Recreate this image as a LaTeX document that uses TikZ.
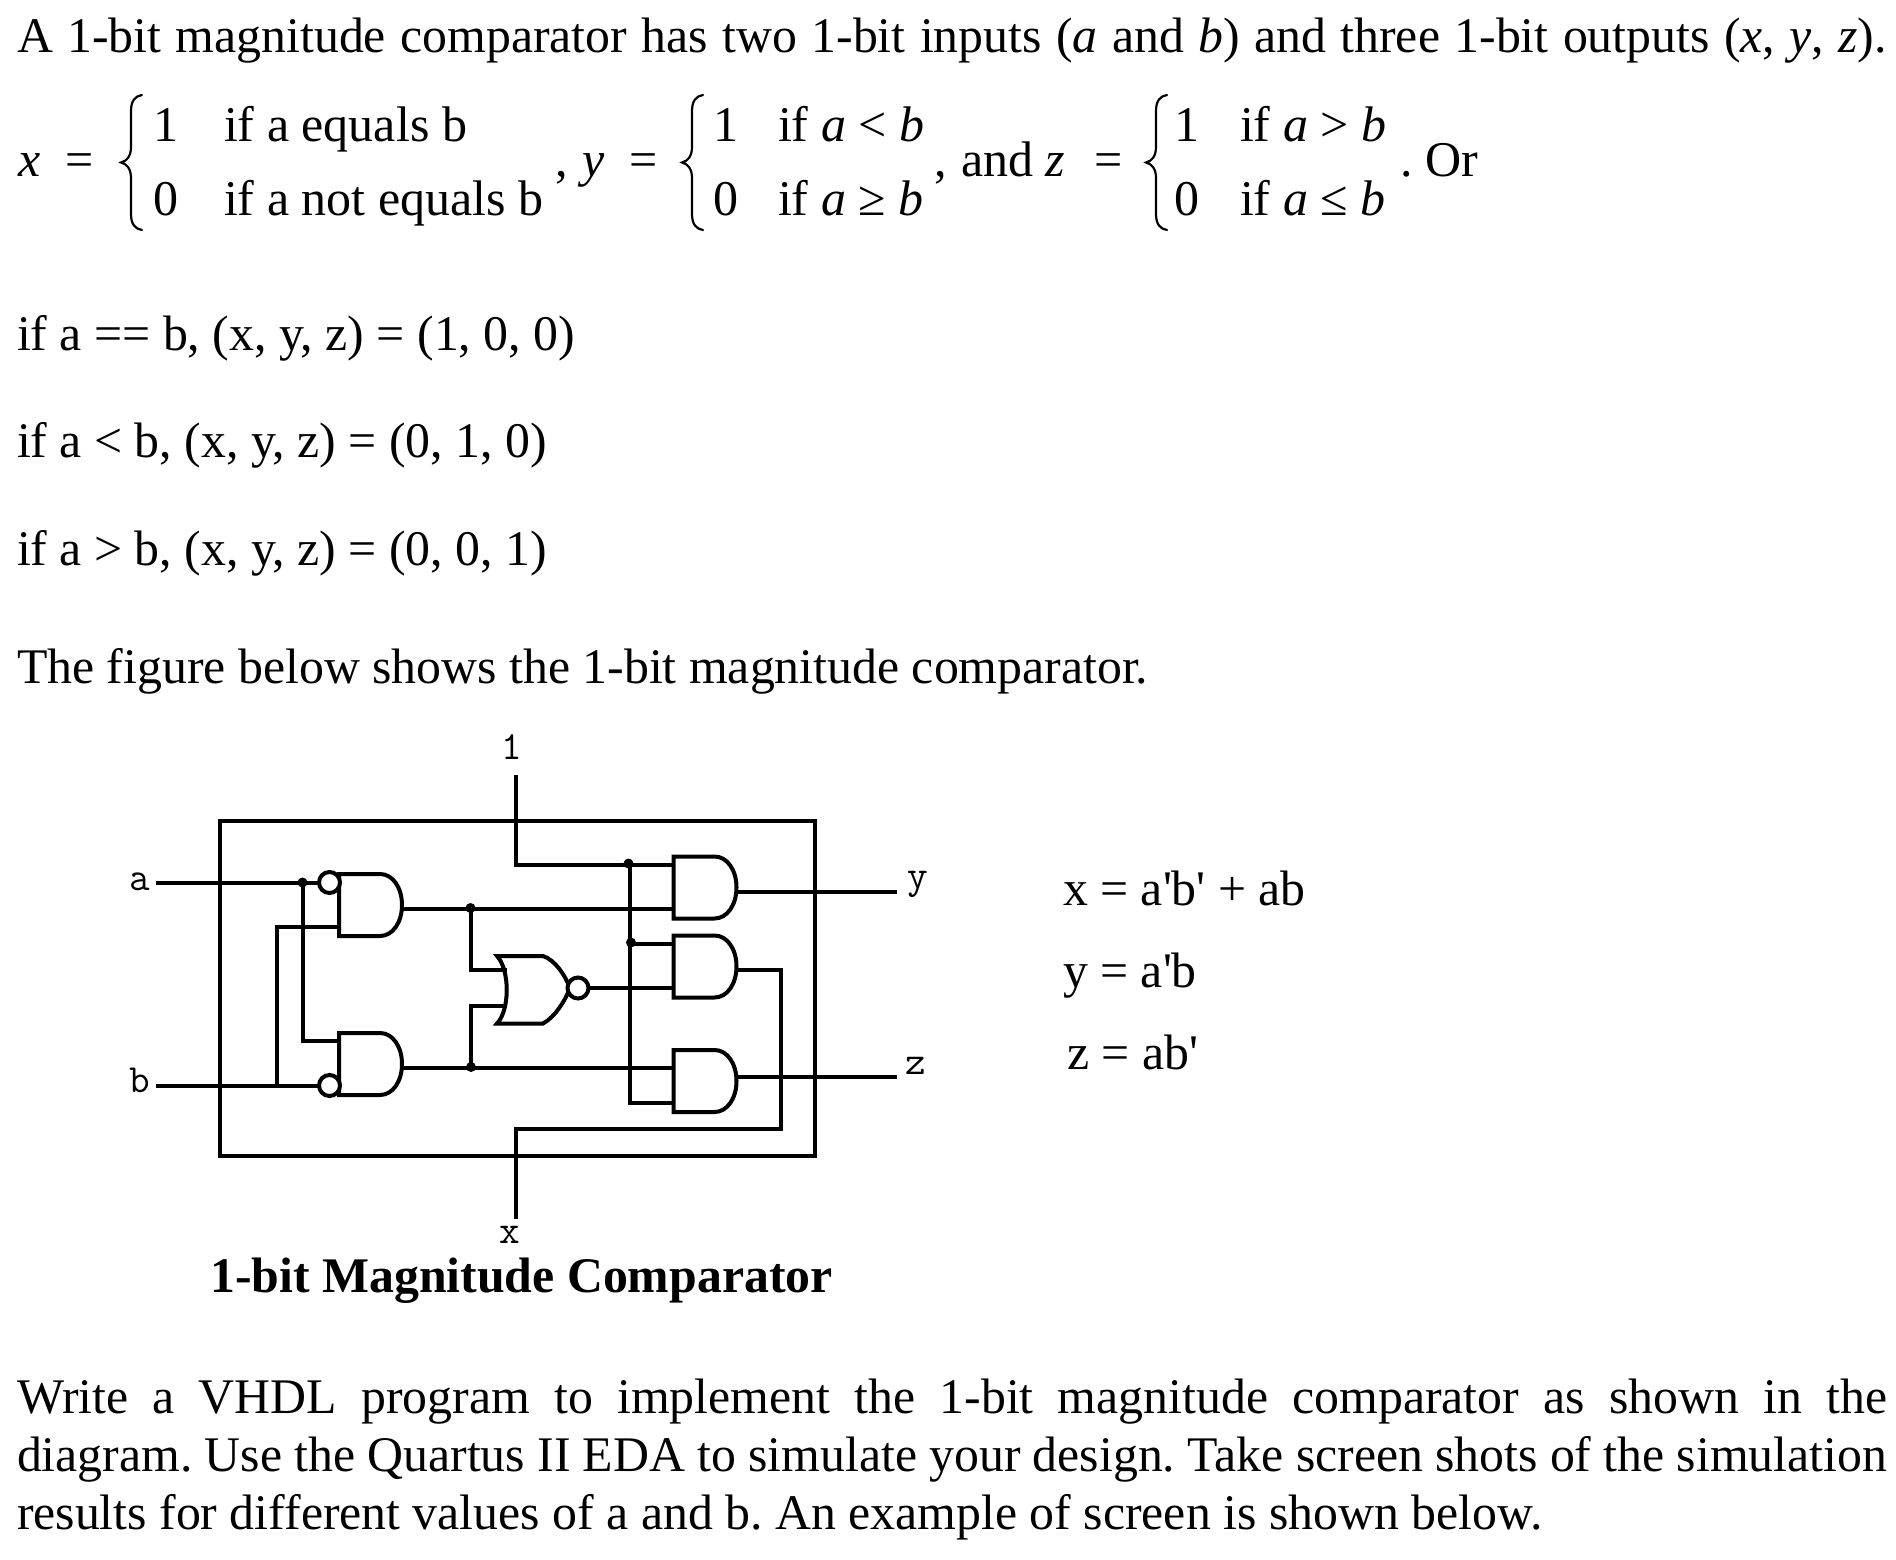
\documentclass[tikz,border=0pt]{standalone}
\usepackage{fontspec}
\setmainfont{Liberation Serif}
\newfontfamily\rawserif{Liberation Serif}
\begin{document}
\frenchspacing
\begin{tikzpicture}[x=1pt,y=-1pt,
  wire/.style={line width=4pt,line join=miter,line cap=butt},
  gateshape/.style={line width=4pt,line join=miter,fill=white},
  bubble/.style={circle,draw,line width=4pt,fill=white,minimum size=21pt,inner sep=0pt},
  junction/.style={circle,fill=black,minimum size=10pt,inner sep=0pt},
  brace/.style={line width=2.2pt,line cap=round},
  txt/.style={anchor=base west,inner sep=0pt,outer sep=0pt,font=\fontsize{49.8}{58}\selectfont},
  eq/.style={txt,font=\fontsize{50}{58}\selectfont},
  sol/.style={txt,font=\fontsize{49.8}{58}\rawserif},
  mono/.style={anchor=base,inner sep=0pt,outer sep=0pt,font=\fontsize{40}{40}\ttfamily},
]
\useasboundingbox (0,0) rectangle (1896,1560);
\fill[white] (0,0) rectangle (1896,1560);

\newcommand{\andg}[3]{%
  \draw[gateshape] (#2,#3) -- (#2+41,#3) .. controls (#2+54,#3) and (#2+63,#3+14) .. (#2+63,#3+31)
     .. controls (#2+63,#3+48) and (#2+54,#3+62) .. (#2+41,#3+62) -- (#2,#3+62) -- cycle;}
\newcommand{\bracepath}[3]{%
  \draw[brace] (#1+21,#2) .. controls (#1+14,#2+1) and (#1+10,#2+6) .. (#1+10,#2+16)
    -- (#1+10,#2+52) .. controls (#1+10,#2+61) and (#1+6,#2+66) .. (#1,#2+67.5)
    .. controls (#1+6,#2+69) and (#1+10,#2+74) .. (#1+10,#2+83)
    -- (#1+10,#2+119) .. controls (#1+10,#2+129) and (#1+14,#2+134) .. (#1+21,#2+135);}

% ---------- text ----------
\node[txt] (t1) at (17,53) {\makebox[1870pt][s]{A 1-bit magnitude comparator has two 1-bit inputs (\textit{a} and \textit{b}) and three 1-bit outputs (\textit{x}, \textit{y}, \textit{z}).}};

\node[eq] (ex) at (19,176) {\textit{x}};
\node[eq] (eeq1) at (65,176) {=};
\bracepath{121}{95}{}
\node[eq] (x1) at (153,142) {1};
\node[eq] (x1c) at (224,142) {if a equals b};
\node[eq] (x0) at (153,215) {0};
\node[eq] (x0c) at (224,215) {if a not equals b};
\node[eq] (c1) at (555,176) {,};
\node[eq] (ey) at (582,176) {\textit{y}};
\node[eq] (eeq2) at (629,176) {=};
\bracepath{682}{95}{}
\node[eq] (y1) at (713,142) {1};
\node[eq] (y1c) at (778,142) {if \textit{a} < \textit{b}};
\node[eq] (y0) at (713,215) {0};
\node[eq] (y0c) at (778,215) {if \textit{a} ≥ \textit{b}};
\node[eq] (c2) at (934,176) {,};
\node[eq] (eand) at (961,176) {and \textit{z}};
\node[eq] (eeq3) at (1094,176) {=};
\bracepath{1146}{95}{}
\node[eq] (z1) at (1174,142) {1};
\node[eq] (z1c) at (1240,142) {if \textit{a} > \textit{b}};
\node[eq] (z0) at (1174,215) {0};
\node[eq] (z0c) at (1240,215) {if \textit{a} ≤ \textit{b}};
\node[eq] (eor) at (1400,176) {. Or};

\node[txt] (c1l) at (17,350) {if a == b, (x, y, z) = (1, 0, 0)};
\node[txt] (c2l) at (17,457) {if a < b, (x, y, z) = (0, 1, 0)};
\node[txt] (c3l) at (17,565) {if a > b, (x, y, z) = (0, 0, 1)};
\node[txt] (fig) at (17,683) {The figure below shows the 1-bit magnitude comparator.};

\node[sol] (fx) at (1063,905) {x = a'b' + ab};
\node[sol] (fy) at (1063,987) {y = a'b};
\node[sol] (fz) at (1067,1069) {z = ab'};

\node[anchor=base west,inner sep=0pt,font=\fontsize{49.8}{58}\selectfont\bfseries] (cap) at (210,1292) {1-bit Magnitude Comparator};

\node[txt] (p1) at (17,1413) {\makebox[1870pt][s]{Write a VHDL program to implement the 1-bit magnitude comparator as shown in the}};
\node[txt] (p2) at (17,1471) {\makebox[1870pt][s]{diagram. Use the Quartus II EDA to simulate your design. Take screen shots of the simulation}};
\node[txt] (p3) at (17,1529) {results for different values of a and b. An example of screen is shown below.};

% ---------- circuit labels ----------
\node[mono] (la) at (140,890) {a};
\node[mono] (lb) at (140,1092) {b};
\node[mono] (lone) at (512,759) {1};
\node[mono] (ly) at (918,888) {y};
\node[mono] (lz) at (916,1074) {z};
\node[mono] (lx) at (510,1243) {x};

% ---------- named points ----------
\coordinate (ain) at (156,882.5);
\coordinate (bin) at (156,1085.5);
\coordinate (aj) at (302.5,882.5);
\coordinate (bj) at (277,1085.5);
\coordinate (g1b) at (339,927);
\coordinate (g2a) at (339,1041);
\coordinate (g1o) at (402,909);
\coordinate (g2o) at (402,1067.5);
\coordinate (j1) at (471,909);
\coordinate (j2) at (471,1067.5);
\coordinate (n1) at (507,970);
\coordinate (n2) at (507,1006);
\coordinate (oneIn) at (515.5,775);
\coordinate (oneJ) at (630,864.5);
\coordinate (g3a) at (673,864.5);
\coordinate (g3b) at (673,909);
\coordinate (g4a) at (673,944);
\coordinate (g4b) at (673,988);
\coordinate (g5a) at (673,1067.5);
\coordinate (g5b) at (673,1102.5);
\coordinate (oneJ2) at (630,944);
\coordinate (g3o) at (736,891.5);
\coordinate (g4o) at (736,970);
\coordinate (g5o) at (736,1076.5);
\coordinate (yout) at (896.5,891.5);
\coordinate (zout) at (896.5,1076.5);
\coordinate (xturn) at (780.5,1129);
\coordinate (xout) at (515.5,1219);

% ---------- box ----------
\draw[wire,line width=4pt] (219.5,820.5) rectangle (815,1156);

% ---------- wires ----------
\draw[wire] (ain) -- (aj) -- (325,882.5);
\draw[wire] (bin) -- (325,1085.5);
\draw[wire] (aj) |- (g2a);
\draw[wire] (bj) |- (g1b);
\draw[wire] (g1o) -- (g3b);
\draw[wire] (g2o) -- (g5a);
\draw[wire] (j1) |- (n1);
\draw[wire] (j2) |- (n2);
\draw[wire] (oneIn) |- (g3a);
\draw[wire] (oneJ) |- (g5b);
\draw[wire] (oneJ2) -- (g4a);
\draw[wire] (586,988) -- (g4b);
\draw[wire] (g3o) -- (yout);
\draw[wire] (g5o) -- (zout);
\draw[wire] (g4o) -| (xturn) -| (xout);

% ---------- gates ----------
\andg{g1}{339}{874}
\andg{g2}{339}{1033}
\andg{g3}{673.5}{856.5}
\andg{g4}{673.5}{935.5}
\andg{g5}{673.5}{1050}
\draw[gateshape] (497,956) -- (543,956) .. controls (555,960) and (565,975) .. (570,988)
  .. controls (565,1001) and (555,1017) .. (543,1023.5) -- (497,1023.5)
  .. controls (510,1010) and (510,970) .. (497,956) -- cycle;
\draw[wire] (n1) -- ++(-4,0);
\draw[wire] (n2) -- ++(-4,0);

\node[bubble] (bu1) at (329.5,882.5) {};
\node[bubble] (bu2) at (329.5,1085.5) {};
\node[bubble] (bu3) at (578,988) {};
\node[junction] (dj1) at (302.5,882.5) {};
\node[junction] (dj2) at (470.5,908) {};
\node[junction] (dj3) at (471,1067) {};
\node[junction] (dj4) at (628.5,863.5) {};
\node[junction] (dj5) at (631,942.5) {};
\end{tikzpicture}
\end{document}
